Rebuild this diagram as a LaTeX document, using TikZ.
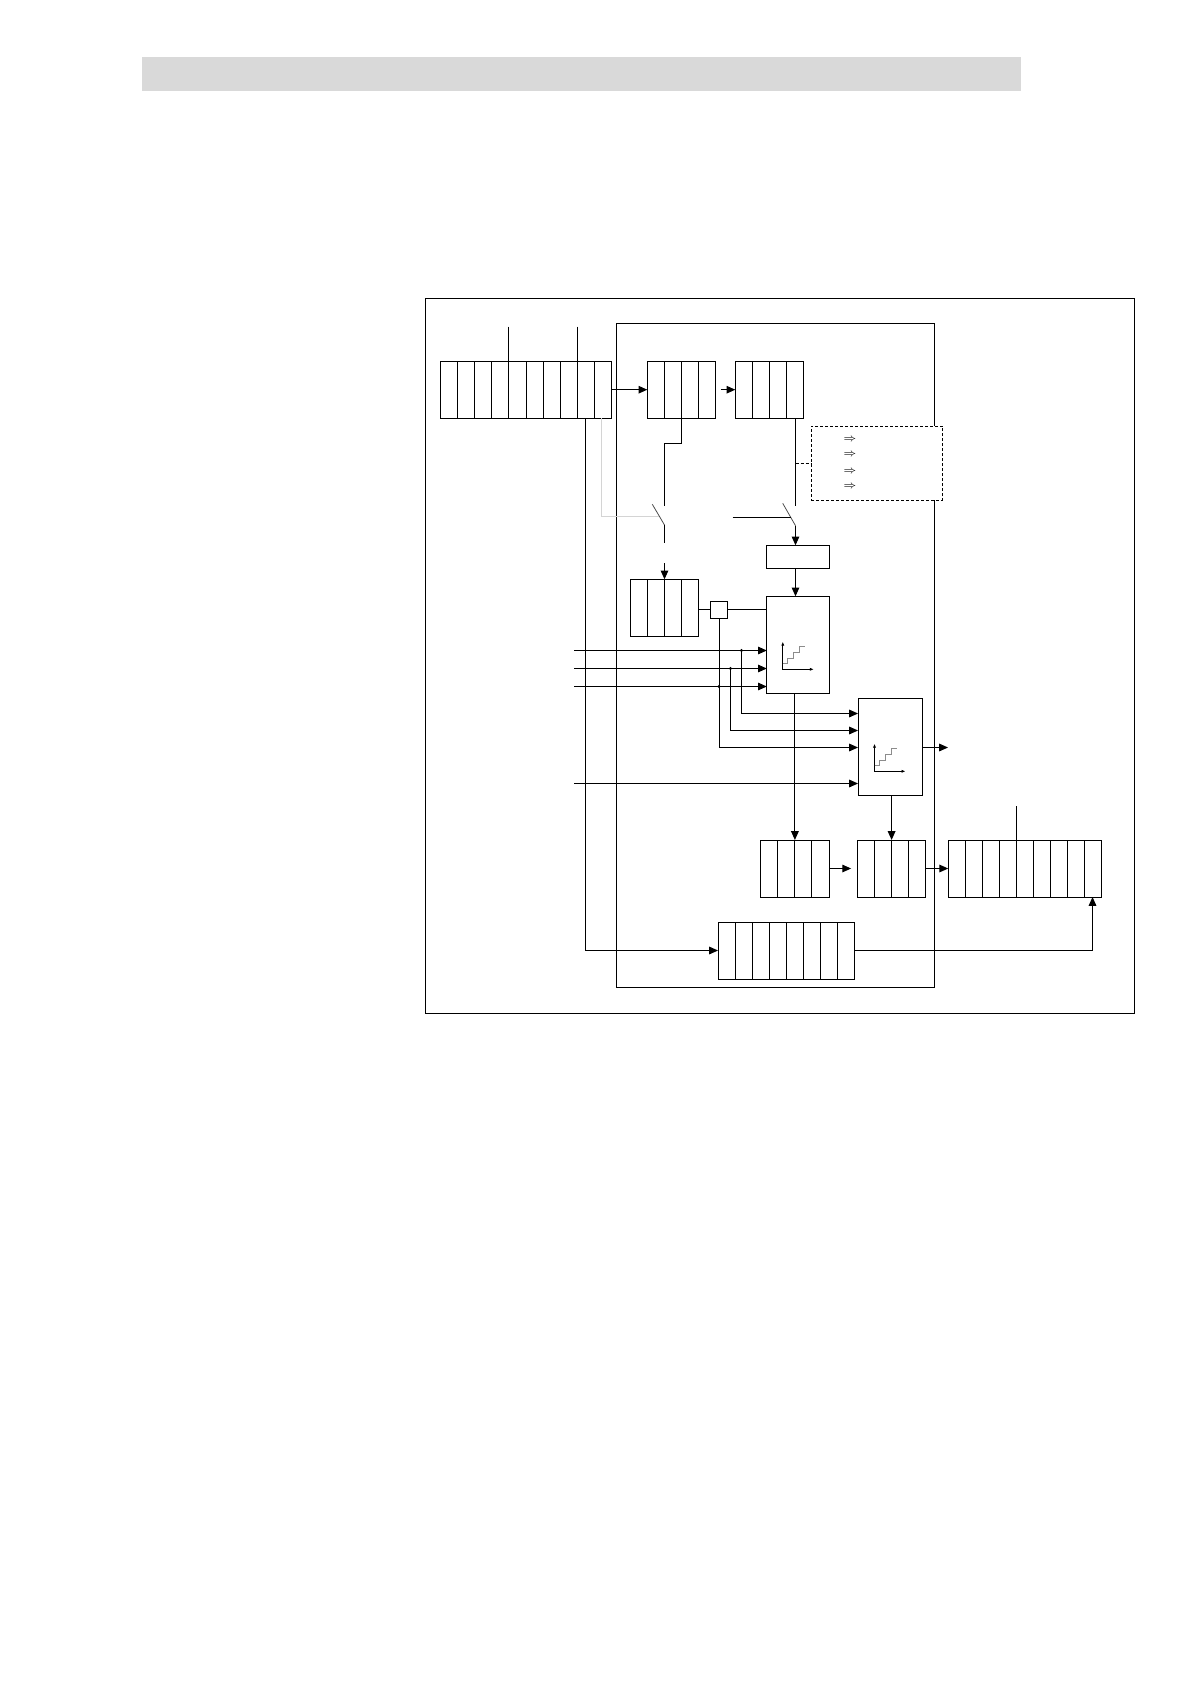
\documentclass[tikz,border=0pt]{standalone}
\usepackage{xcolor}
\usepackage{tikz}
\usetikzlibrary{
  arrows.meta,
  calc
}
\definecolor{BarGray}{HTML}{D9D9D9}
\definecolor{WireGray}{HTML}{D4D4D4}

\begin{document}
\begin{tikzpicture}[
    x=0.5pt, y=-0.5pt,
    line width=0.5pt,
    every node/.style={inner sep=0pt, outer sep=0pt},
    reg/.style={draw, minimum height=28.5pt},
    blk/.style={draw, minimum width=31.5pt, minimum height=48.5pt},
    arr/.style={-{Triangle[length=4.4pt,width=3.8pt]}},
    blade/.style={line width=0.4pt, black!70},
    axis/.style={line width=0.4pt, {Latex[length=2pt,width=1.6pt]}-{Latex[length=2pt,width=1.6pt]}},
    stairs/.style={line width=0.4pt, black!45}
  ]
    \useasboundingbox (0,0) rectangle (1191,1685);
    % header bar
    \fill[BarGray] (142,57) rectangle (1021,91.4);
    % frames
    \draw (425.5,298.5) rectangle (1134.5,1013.5);
    \draw (616.5,323.5) rectangle (934.5,987.5);
    % registers
    \foreach \nm/\cx/\cy/\w/\n in {
      r1/526/389.7/85.7/10,
      r2/681.5/389.7/34.2/4,
      r3/769.5/389.7/34.2/4,
      r4/664.5/607.8/34.2/4,
      r5/794.9/868.5/34.1/4,
      r6/891.6/868.5/34.1/4,
      r7/1024.75/868.5/76.55/9,
      r8/786.25/950.5/68.25/8
    }{
      \node[reg, minimum width=\w pt] (\nm) at (\cx,\cy) {};
      \pgfmathtruncatemacro{\lastcell}{\n-1}
      \foreach \i in {1,...,\lastcell}
        \draw ($(\nm.north west)!\i/\n!(\nm.north east)$) -- ($(\nm.south west)!\i/\n!(\nm.south east)$);
    }
    % function blocks
    \node[blk] (blkA) at (798.3,644.8) {};
    \node[blk, minimum width=32pt] (blkB) at (890,746.8) {};
    \node[draw, minimum width=31.5pt, minimum height=11.5pt] (boxC) at (797.8,556.8) {};
    \node[draw, minimum size=8.7pt] (sq) at (719,609.8) {};
    \node[draw, dash pattern=on 1.5pt off 1pt, fill=white, minimum width=65.7pt, minimum height=37pt] (note) at (877,463) {};
    \foreach \k/\yy in {1/439.3, 2/455, 3/471.7, 4/486.7}
      \node[font=\fontsize{5.5}{6}\selectfont] (imp\k) at (850,\yy) {$\Rightarrow$};
    % step curves
    \foreach \b in {blkA,blkB}{
      \draw[axis] ($(\b.center)+(-15.5,-3.1)$) |- ++(31,27.6);
      \draw[stairs] ($(\b.center)+(-15.5,18.5)$) -- ++(5,0) -- ++(0,-5.3) -- ++(5.7,0)
        -- ++(0,-5.6) -- ++(6,0) -- ++(0,-5.8) -- ++(5.7,0);
    }
    % free ends
    \coordinate (t1) at (508.9,326.7);
    \coordinate (t2) at (577.4,326.7);
    \coordinate (t3) at (1016.2,806);
    \coordinate (k1) at (664.5,443.5);
    \coordinate (s1top) at (664.5,505.7);
    \coordinate (s1a) at (652.3,504.3);
    \coordinate (s1bot) at (664.5,525);
    \coordinate (s1gap) at (664.5,543.3);
    \coordinate (s1res) at (664.5,563);
    \coordinate (g1) at (601.5,516.5);
    \coordinate (s1mid) at (659.4,516.5);
    \coordinate (s2top) at (795.5,505.7);
    \coordinate (s2a) at (782.7,503.3);
    \coordinate (s2bot) at (795.5,525.7);
    \coordinate (s2in) at (732.7,517.5);
    \coordinate (s2mid) at (791.1,517.5);
    \coordinate (dj) at (795.5,463.5);
    \coordinate (in1) at (574,650.5);
    \coordinate (in2) at (574,668.5);
    \coordinate (in3) at (574,686.5);
    \coordinate (in4) at (574,783.5);
    \coordinate (d1) at (741.5,650.5);
    \coordinate (d2) at (730.5,668.5);
    \coordinate (d3) at (719,686.5);
    \coordinate (bin1) at (858,713.5);
    \coordinate (bin2) at (858,730.5);
    \coordinate (bin3) at (858,747.5);
    \coordinate (bout) at (948,747.5);
    \coordinate (lft) at (585.5,418.3);
    \coordinate (r7c9) at (1092.5,897);
    % top part
    \draw (t1) -- (t1 |- r1.north);
    \draw (t2) -- (t2 |- r1.north);
    \draw[arr] (r1.east) -- (r2.west);
    \draw[arr] ([xshift=2.6pt]r2.east) -- (r3.west);
    \draw (r2.south) |- (k1) -- (s1top);
    \draw[blade] (s1a) -- (s1bot);
    \draw (s1bot) -- (s1gap);
    \draw[arr] (s1res) -- (r4.north);
    \draw[WireGray] (g1 |- r1.south) -- (g1) -- (s1mid);
    \draw (s2top |- r3.south) -- (s2top);
    \draw[blade] (s2a) -- (s2bot);
    \draw (s2in) -- (s2mid);
    \draw[arr] (s2bot) -- (s2bot |- boxC.north);
    \draw[dash pattern=on 1.5pt off 1pt] (dj) -- (note.west |- dj);
    \draw[arr] (s2top |- boxC.south) -- (s2top |- blkA.north);
    % middle part
    \draw (r4.east |- sq.west) -- (sq.west);
    \draw (sq.east) -- (sq.east -| blkA.west);
    \foreach \k in {1,2,3}
      \draw[arr] (in\k) -- (in\k -| blkA.west);
    \draw[arr] (d1) |- (bin1);
    \draw[arr] (d2) |- (bin2);
    \draw[arr] (sq.south) |- (bin3);
    \foreach \k in {1,2,3}
      \fill (d\k) circle[radius=0.8pt];
    \draw[arr] (blkB.east |- bout) -- (bout);
    \draw[arr] (in4) -- (in4 -| blkB.west);
    % bottom part
    \draw[arr] (blkA.south -| r5.north) -- (r5.north);
    \draw[arr] (blkB.south -| r6.north) -- (r6.north);
    \draw[arr] (r5.east) -- ([xshift=-3.2pt]r6.west);
    \draw[arr] (r6.east) -- (r7.west);
    \draw (t3) -- (t3 |- r7.north);
    \draw[arr] (lft) |- (r8.west);
    \draw[arr] (r8.east) -| (r7c9);
  \end{tikzpicture}
\end{document}
